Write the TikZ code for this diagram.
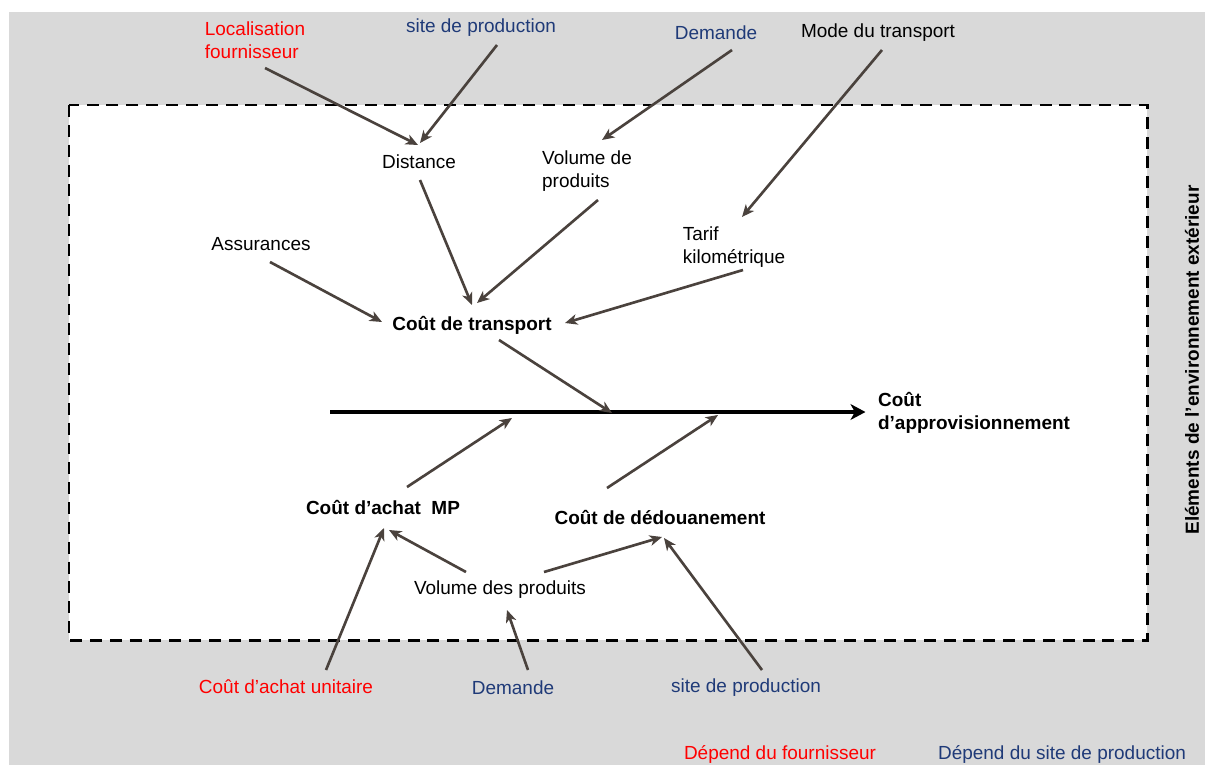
\documentclass[tikz,border=0pt]{standalone}
\usepackage{fontspec}
\setmainfont{Liberation Sans}
\usepackage{tikz}
\usetikzlibrary{arrows.meta,positioning}
\definecolor{bggray}{HTML}{D9D9D9}
\definecolor{arrgray}{HTML}{4A423D}
\definecolor{navy}{HTML}{1F3A78}
\tikzset{
  >=Stealth,
  lbl/.style={font=\fontsize{10.8}{13}\selectfont, inner sep=1pt},
  blbl/.style={lbl, font=\fontsize{10.8}{13}\selectfont\bfseries},
  fourn/.style={lbl, text=red},
  site/.style={lbl, text=navy},
  tr/.style={-{Stealth[length=7pt,width=6pt,inset=2pt]}, line width=1.5pt, draw=arrgray},
  spine/.style={-{Stealth[length=8.5pt,width=9pt,inset=2.5pt]}, line width=2.3pt, black}
}
\begin{document}
\begin{tikzpicture}[x=0.02cm,y=-0.02cm]

    % === background and frame ===
    \useasboundingbox (0,0) rectangle (1205,765);
    \fill[white] (0,0) rectangle (1205,765);
    \fill[bggray] (9,12) rectangle (1205,765);
    \draw[fill=white, line width=1.7pt, dash pattern=on 6.8pt off 4.5pt] (69,105) rectangle (1147,640);

    % === outside factors (top) ===
    \node[fourn, align=left] (loc) at (255,40) {Localisation\\fournisseur};
    \node[site] (sitetop) at (481,28) {site de production};
    \node[site] (demtop) at (716,33) {Demande};
    \node[lbl] (mode) at (878,33) {Mode du transport};

    % === transport branch ===
    \node[lbl] (dist) at (419,162) {Distance};
    \node[lbl, align=left] (vol) at (587,171) {Volume de\\produits};
    \node[lbl, align=left] (tarif) at (734,247) {Tarif\\kilométrique};
    \node[lbl] (ass) at (261,244) {Assurances};
    \node[blbl] (ctrans) at (472,325) {Coût de transport};

    % === spine ===
    \coordinate (tail) at (330,412);
    \node[blbl, align=left, anchor=west] (appro) at (876,413) {Coût\\d’approvisionnement};
    \draw[spine, shorten >=6pt] (tail) -- (appro.west |- tail);
    \coordinate (s1) at (612,413);
    \coordinate (s2) at (512,418);
    \coordinate (s3) at (718,415);

    % === lower branches ===
    \node[blbl] (achat) at (383,508) {Coût d’achat~ MP};
    \node[blbl] (dedou) at (660,518) {Coût de dédouanement};
    \node[lbl] (volp) at (500,590) {Volume des produits};

    % === outside factors (bottom) ===
    \node[fourn] (achu) at (286,687) {Coût d’achat unitaire};
    \node[site] (dembot) at (513,688) {Demande};
    \node[site] (sitebot) at (746,688) {site de production};

    % Legend and side label
    \node[fourn] (depf) at (780,754) {Dépend du fournisseur};
    \node[site] (deps) at (1062,754) {Dépend du site de production};
    \node[blbl, rotate=90] (env) at (1192,360) {Eléments de l’environnement extérieur};

    % === arrows ===
    \draw[tr] ([shift={(10,28)}]loc.center) -- ([shift={(-1,-17)}]dist.center);
    \draw[tr] ([shift={(16,17)}]sitetop.center) -- ([shift={(1,-19)}]dist.center);
    \draw[tr] ([shift={(16,17)}]demtop.center) -- ([shift={(15,-31)}]vol.center);
    \draw[tr] ([shift={(4,17)}]mode.center) -- ([shift={(8,-30)}]tarif.center);
    \draw[tr] ([shift={(1,18)}]dist.center) -- ([shift={(0,-20)}]ctrans.center);
    \draw[tr] ([shift={(11,29)}]vol.center) -- ([shift={(5,-22)}]ctrans.center);
    \draw[tr] ([shift={(9,23)}]tarif.center) -- ([shift={(93,-2)}]ctrans.center);
    \draw[tr] ([shift={(9,18)}]ass.center) -- ([shift={(-90,-3)}]ctrans.center);
    \draw[tr] ([shift={(27,15)}]ctrans.center) -- (s1);
    \draw[tr] ([shift={(24,-21)}]achat.center) -- (s2);
    \draw[tr] ([shift={(-53,-30)}]dedou.center) -- (s3);
    \draw[tr] ([shift={(40,-17)}]achu.center) -- ([shift={(1,20)}]achat.center);
    \draw[tr] ([shift={(-34,-18)}]volp.center) -- ([shift={(6,22)}]achat.center);
    \draw[tr] ([shift={(44,-18)}]volp.center) -- ([shift={(2,19)}]dedou.center);
    \draw[tr] ([shift={(16,-18)}]sitebot.center) -- ([shift={(4,20)}]dedou.center);
    \draw[tr] ([shift={(15,-18)}]dembot.center) -- ([shift={(7,20)}]volp.center);

\end{tikzpicture}
\end{document}
